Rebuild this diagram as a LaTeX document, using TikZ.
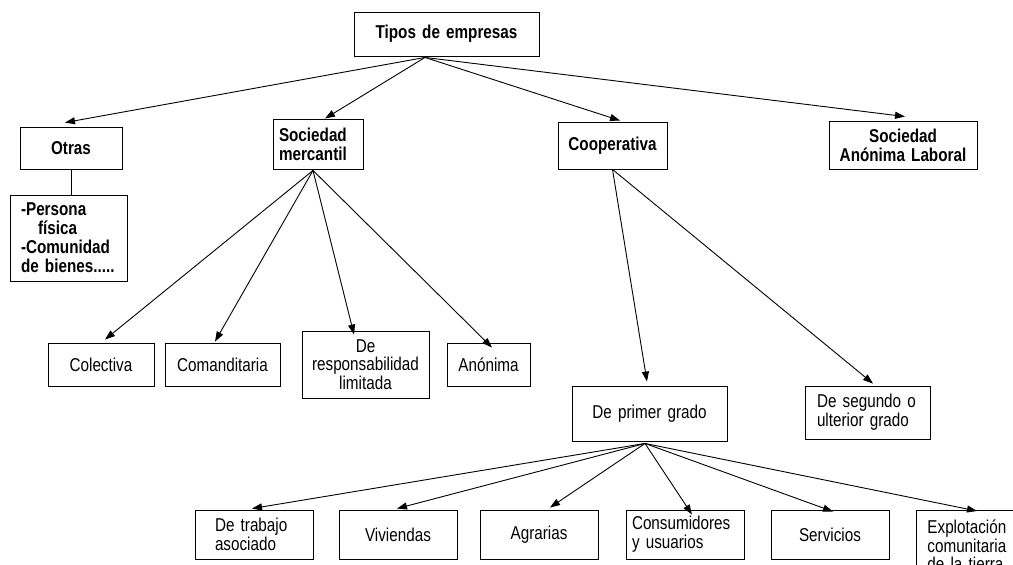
\documentclass[tikz,border=0pt]{standalone}
\usepackage{fontspec}
\setmainfont[FakeStretch=0.82]{Liberation Sans}
\usetikzlibrary{arrows.meta,calc}
\begin{document}
\begin{tikzpicture}[x=1pt,y=-1pt,
  bx/.style={draw,line width=0.9pt,inner ysep=2pt,font=\fontsize{18.6}{18.7}\selectfont},
  bb/.style={bx,font=\bfseries\fontsize{18.6}{19}\selectfont},
  ar/.style={line width=0.9pt,-{Triangle[length=10pt,width=7pt]}},
  ln/.style={line width=0.9pt}]
\useasboundingbox (0,0) rectangle (1013,565);
\clip (0,0) rectangle (1013,565);
% top level
\node[bb,align=center,text width=177pt,inner xsep=4pt,minimum height=44pt] (tipos) at (446.5,34) {Tipos de empresas};
\node[bb,align=center,text width=94pt,inner xsep=4pt,minimum height=42pt] (otras) at (71,148) {Otras};
\node[bb,align=left,text width=78pt,inner xsep=6pt,minimum height=50pt] (socm) at (318,144) {Sociedad\\mercantil};
\node[bb,align=center,text width=101pt,inner xsep=4pt,minimum height=47pt] (coop) at (612.5,145.5) {Cooperativa};
\node[bb,align=center,text width=140pt,inner xsep=4pt,minimum height=48pt] (sal) at (903,145) {Sociedad\\Anónima Laboral};
\node[bb,align=left,text width=95pt,inner xsep=11pt,minimum height=86pt] (pers) at (68.5,238) {-Persona\\\hspace*{17pt}física\\-Comunidad\\de bienes.....};
% sociedad mercantil children
\node[bx,align=center,text width=98pt,inner xsep=4pt,minimum height=43pt] (col) at (101,364.5) {Colectiva};
\node[bx,align=center,text width=107pt,inner xsep=4pt,minimum height=43pt] (coman) at (222.5,364.5) {Comanditaria};
\node[bx,align=center,text width=119pt,inner xsep=4pt,minimum height=67pt] (drl) at (365.5,364.5) {De\\responsabilidad\\limitada};
\node[bx,align=center,text width=75pt,inner xsep=4pt,minimum height=43pt] (anon) at (488.5,364.5) {Anónima};
% cooperativa children
\node[bx,align=center,text width=147pt,inner xsep=4pt,minimum height=55pt] (prim) at (649.5,413.5) {De primer grado};
\node[bx,align=left,text width=101pt,inner xsep=12pt,minimum height=53pt] (seg) at (867.5,412.5) {De segundo o\\ulterior grado};
% primer grado children
\node[bx,align=left,text width=78pt,inner xsep=20pt,minimum height=49pt] (trab) at (254,534.5) {De trabajo\\asociado};
\node[bx,align=center,text width=110pt,inner xsep=4pt,minimum height=49pt] (viv) at (398,534.5) {Viviendas};
\node[bx,align=center,text width=110pt,inner xsep=4pt,minimum height=49pt] (agr) at (539,534.5) {Agrarias};
\node[bx,align=left,text width=106pt,inner xsep=6pt,minimum height=49pt] (cons) at (685,534.5) {Consumidores\\y usuarios};
\node[bx,align=center,text width=110pt,inner xsep=4pt,minimum height=49pt] (serv) at (830,534.5) {Servicios};
\node[bx,align=left,text width=96pt,inner xsep=11pt,anchor=north west,minimum height=70pt] (expl) at (916,510) {Explotación\\comunitaria\\de la tierra};
% connectors
\coordinate (ts) at ($(tipos.south)+(-21.5,1)$);
\draw[ar] (ts) -- ($(otras.north)+(-6,-4)$);
\draw[ar] (ts) -- ($(socm.north)+(7,0)$);
\draw[ar] (ts) -- ($(coop.north)+(7.5,-1)$);
\draw[ar] (ts) -- ($(sal.north)+(2,-4)$);
\draw[ln] (otras.south) -- (otras.south |- pers.north);
\coordinate (sm) at ($(socm.south)+(-5,1)$);
\draw[ar] (sm) -- ($(col.north)+(4,-3)$);
\draw[ar] (sm) -- ($(coman.north)+(-7.5,-1)$);
\draw[ar] (sm) -- ($(drl.north)+(-11.5,4)$);
\draw[ar] (sm) -- ($(anon.north)+(3.5,5)$);
\coordinate (cs) at (coop.south);
\draw[ar] (cs) -- ($(prim.north)+(-2.5,-4)$);
\draw[ar] (cs) -- ($(seg.north)+(5.5,-2)$);
\coordinate (ps) at ($(prim.south)+(-4.5,2)$);
\draw[ar] (ps) -- ($(trab.north)+(-2,-1)$);
\draw[ar] (ps) -- ($(viv.north)+(-1,-1)$);
\draw[ar] (ps) -- ($(agr.north)+(11,-2)$);
\draw[ar] (ps) -- ($(cons.north)+(7,5)$);
\draw[ar] (ps) -- ($(serv.north)+(3,2)$);
\draw[ar] (ps) -- ($(expl.north west)+(61,1)$);
\end{tikzpicture}
\end{document}
